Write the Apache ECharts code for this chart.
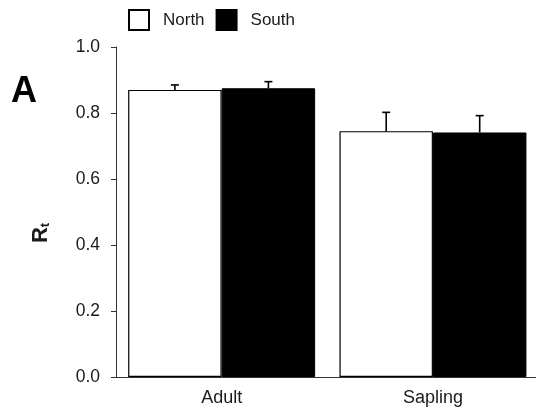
<!DOCTYPE html>
<html>
<head>
<meta charset="utf-8">
<script src="https://cdn.jsdelivr.net/npm/echarts@6/dist/echarts.min.js"></script>
<style>html,body{margin:0;padding:0;background:#fff}#c{width:536px;height:414px}</style>
</head>
<body>
<div id="c"></div>
<script>
const categories = ['Adult', 'Sapling'];
const seriesNames = ['North', 'South'];
const northValues = [0.870, 0.745];
const southValues = [0.875, 0.741];
const northErrTop = [0.885, 0.802];
const southErrTop = [0.895, 0.792];
const yTicks = [0, 0.2, 0.4, 0.6, 0.8, 1.0];

const FONT = '"Liberation Sans", Arial, sans-serif';
const GAP = 0.115;

function errSeries(errTop, values, side) {
  return {
    type: 'custom',
    z: 10,
    silent: true,
    data: categories.map((c, i) => [i, values[i], errTop[i]]),
    renderItem: function (params, api) {
      const band = api.size([1, 0])[0];
      const barW = band * (1 - GAP) / 2;
      const base = api.coord([api.value(0), api.value(1)]);
      const top = api.coord([api.value(0), api.value(2)]);
      const x = base[0] + side * barW / 2;
      const cap = 4;
      const style = { stroke: '#000', lineWidth: 1.6 };
      return {
        type: 'group',
        children: [
          { type: 'line', shape: { x1: x, y1: base[1], x2: x, y2: top[1] }, style: style },
          { type: 'line', shape: { x1: x - cap, y1: top[1], x2: x + cap, y2: top[1] }, style: style }
        ]
      };
    }
  };
}

const chart = echarts.init(document.getElementById('c'));
chart.setOption({
  animation: false,
  backgroundColor: '#fff',
  textStyle: { fontFamily: FONT },
  grid: { left: 116, right: -2.6, top: 47, bottom: 37, outerBoundsMode: 'none', containLabel: false },
  legend: {
    left: 128, top: 9, padding: 0,
    itemWidth: 20, itemHeight: 20, itemGap: 11,
    icon: 'rect',
    data: seriesNames,
    textStyle: { fontSize: 17, color: '#1a1a1a', fontFamily: FONT, padding: [0, 0, 0, 9] }
  },
  xAxis: {
    type: 'category',
    data: categories,
    axisLine: { lineStyle: { color: '#333', width: 1 } },
    axisTick: { alignWithLabel: true, length: 3, lineStyle: { color: '#333' } },
    axisLabel: { fontSize: 18, color: '#1a1a1a', margin: 12, fontFamily: FONT }
  },
  yAxis: {
    type: 'value',
    min: 0, max: 1, interval: 0.2,
    splitLine: { show: false },
    axisLine: { show: true, lineStyle: { color: '#333', width: 1 } },
    axisTick: { show: true, length: 5, lineStyle: { color: '#333' } },
    axisLabel: {
      fontSize: 17.5, color: '#1a1a1a', margin: 16, fontFamily: FONT,
      formatter: v => (yTicks.includes(+v.toFixed(1)) ? v.toFixed(1) : '')
    }
  },
  graphic: [
    { type: 'text', left: 11, top: 74, style: { text: 'A', font: 'bold 36px ' + FONT, fill: '#000' } },
    {
      type: 'text', x: 41, y: 233, rotation: Math.PI / 2,
      style: {
        text: '{r|R}{t|t}', align: 'center', verticalAlign: 'middle',
        rich: {
          r: { fontSize: 22, fontWeight: 'bold', fill: '#1a1a1a', fontFamily: FONT },
          t: { fontSize: 13, fontWeight: 'bold', fill: '#1a1a1a', fontFamily: FONT, padding: [8, 0, 0, 0] }
        }
      }
    }
  ],
  series: [
    {
      name: 'North', type: 'bar', data: northValues,
      barGap: 0, barCategoryGap: (GAP * 100) + '%',
      itemStyle: { color: '#fff', borderColor: '#000', borderWidth: 1.2 }
    },
    {
      name: 'South', type: 'bar', data: southValues,
      barGap: 0, barCategoryGap: (GAP * 100) + '%',
      itemStyle: { color: '#000', borderColor: '#000', borderWidth: 1 }
    },
    errSeries(northErrTop, northValues, -1),
    errSeries(southErrTop, southValues, 1)
  ]
});
</script>
</body>
</html>
